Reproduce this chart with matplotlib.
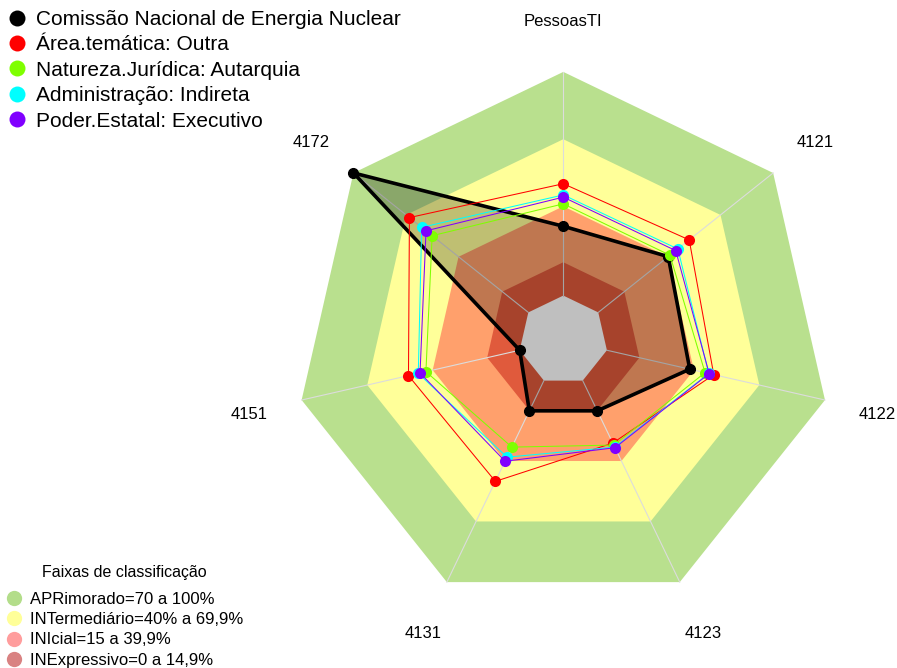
import numpy as np
import matplotlib
matplotlib.use("Agg")
import matplotlib.pyplot as plt
from matplotlib.lines import Line2D

plt.rcParams['font.family'] = ['Liberation Sans', 'DejaVu Sans']

# ---- data ----
categories = ["PessoasTI", "4121", "4122", "4123", "4131", "4151", "4172"]
series_names = ["Comissão Nacional de Energia Nuclear", "Área.temática: Outra",
                "Natureza.Jurídica: Autarquia", "Administração: Indireta",
                "Poder.Estatal: Executivo"]
cnen = [31, 40, 38, 15, 15, 0, 100]
area_outra = [50, 52, 49, 31, 50, 51, 68]
autarquia = [41, 41, 45, 32, 33, 43, 55]
indireta = [45, 45.5, 46.7, 33, 38, 46.5, 61]
executivo = [44, 44.3, 46.9, 33.3, 40, 45.7, 58.5]
series_values = [cnen, area_outra, autarquia, indireta, executivo]
series_colors = ["#000000", "#ff0000", "#7fff00", "#00ffff", "#8000ff"]

band_labels = ["APRimorado=70 a 100%", "INTermediário=40% a 69,9%",
               "INIcial=15 a 39,9%", "INExpressivo=0 a 14,9%"]
band_upper = [100, 69.9, 39.9, 14.9]
band_fill = ["#b9e08e", "#ffff99", "#ffa06c", "#e05a3c"]
band_legend_colors = ["#b3dd8a", "#ffff99", "#ff9d9d", "#d98282"]
legend_title = "Faixas de classificação"

# ---- geometry ----
W, H = 897, 668
CX, CY, R = 563.3, 340.3, 268.4
n = len(categories)
ang = np.deg2rad(90 - np.arange(n) * 360.0 / n)


def rad(v):
    return 1.0 / 6 + np.asarray(v, dtype=float) / 100.0 * 5.0 / 6


def xy(vals):
    r = rad(vals)
    return r * np.cos(ang), r * np.sin(ang)


fig = plt.figure(figsize=(W / 100, H / 100), dpi=100)
ax = fig.add_axes([0, 0, 1, 1])
ax.set_xlim(-CX / R, (W - CX) / R)
ax.set_ylim(-(H - CY) / R, CY / R)
ax.axis("off")

# bands
for ub, col in zip(band_upper, band_fill):
    x, y = xy([ub] * n)
    ax.fill(x, y, color=col, lw=0, zorder=1)
x0, y0 = xy([0] * n)
ax.fill(x0, y0, color="white", lw=0, zorder=1)

# spokes
for a in ang:
    ax.plot([np.cos(a) / 6, np.cos(a)], [np.sin(a) / 6, np.sin(a)],
            color="#dcdcdc", lw=0.8, zorder=2)

# series
for i, (vals, col) in enumerate(zip(series_values, series_colors)):
    x, y = xy(vals)
    xc, yc = np.append(x, x[0]), np.append(y, y[0])
    if i == 0:
        ax.fill(x, y, color="black", alpha=0.25, lw=0, zorder=3)
        ax.plot(xc, yc, color=col, lw=2.6, zorder=4)
        ax.plot(x, y, 'o', color=col, ms=7, zorder=4)
    else:
        ax.plot(xc, yc, color=col, lw=0.75, zorder=5 + i)
        ax.plot(x, y, 'o', color=col, ms=8, mew=0, zorder=5 + i)

# axis labels (baseline placed slightly below the label point, as in R)
for a, lab in zip(ang, categories):
    ax.text(1.2 * np.cos(a), 1.2 * np.sin(a) - 7.5 / R, lab, ha="center", va="baseline",
            fontsize=12, color="black")


def fx(px):
    return px / W


def fy(py):
    return 1 - py / H


# top legend
for k, (name, col) in enumerate(zip(series_names, series_colors)):
    py = 17.5 + k * 25.4
    fig.lines.append(Line2D([fx(17.3)], [fy(py)], marker='o', ms=11.5,
                            color=col, mew=0, transform=fig.transFigure))
    fig.text(fx(36), fy(py + 7.5), name, fontsize=15, ha="left", va="baseline")

# bottom legend
fig.text(fx(124.5), fy(577.5), legend_title, fontsize=11.5, ha="center", va="baseline")
for k, (lab, col) in enumerate(zip(band_labels, band_legend_colors)):
    py = 598.3 + k * 20.1
    fig.lines.append(Line2D([fx(14)], [fy(py)], marker='o', ms=11,
                            color=col, mew=0, transform=fig.transFigure))
    fig.text(fx(30), fy(py + 6), lab, fontsize=12, ha="left", va="baseline")

fig.savefig("out.png", dpi=100)
